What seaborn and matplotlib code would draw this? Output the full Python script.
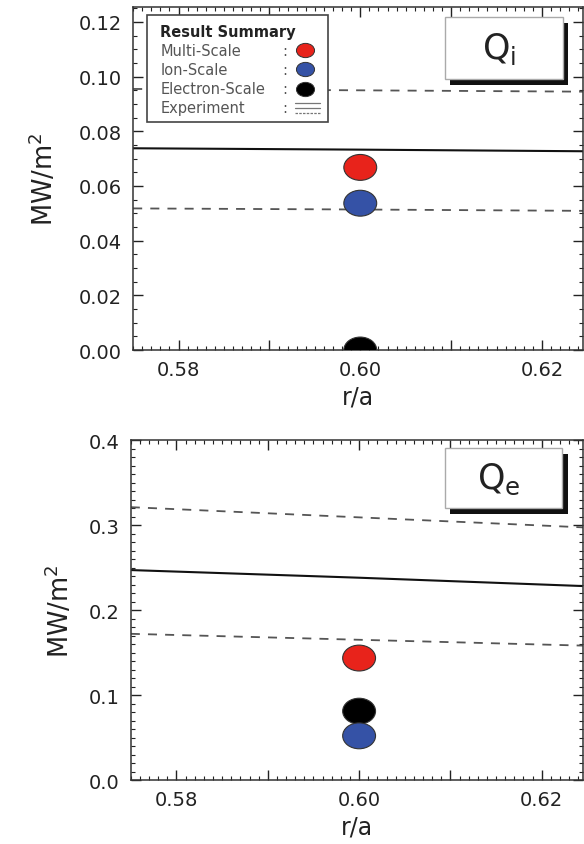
import matplotlib
matplotlib.use("Agg")
import matplotlib.pyplot as plt
import seaborn as sns
import pandas as pd
from matplotlib.path import Path
from matplotlib.patches import Rectangle
from matplotlib.ticker import MultipleLocator, FuncFormatter

# gyrokinetic results at r/a = 0.60
cases = ["Multi-Scale", "Ion-Scale", "Electron-Scale"]
case_colors = ["#e8231b", "#3552a6", "#000000"]
r_sim = [0.60, 0.60, 0.60]
qi_sim = [0.0668, 0.0537, 0.0]
qe_sim = [0.1435, 0.052, 0.081]

# experimental profile and its error band
r_exp = [0.575, 0.600, 0.625]
qi_exp = [0.0738, 0.0733, 0.0727]
qi_exp_hi = [0.0955, 0.0950, 0.0945]
qi_exp_lo = [0.0518, 0.0514, 0.0509]
qe_exp = [0.247, 0.238, 0.228]
qe_exp_hi = [0.321, 0.309, 0.297]
qe_exp_lo = [0.172, 0.165, 0.158]

sns.set_style("ticks")
plt.rcParams["font.family"] = ["DejaVu Sans"]
plt.rcParams["mathtext.fontset"] = "dejavusans"

# slightly wide ellipse, the original picture is stretched sideways
circ = Path.unit_circle()
ellipse = Path(circ.vertices * [1.27, 1.0], circ.codes)

fig = plt.figure(figsize=(5.84, 8.45), dpi=100)
ax1 = fig.add_axes([0.228, 0.5846, 0.770, 0.406])
ax2 = fig.add_axes([0.224, 0.0757, 0.774, 0.4024])


def draw_panel(ax, q_sim, q_exp, q_hi, q_lo):
    sns.lineplot(x=r_exp, y=q_exp, color="#111111", lw=1.5, ax=ax)
    for band in (q_hi, q_lo):
        sns.lineplot(x=r_exp, y=band, color="#555555", lw=1.3,
                     linestyle=(0, (5, 4.5)), ax=ax)
    df = pd.DataFrame({"r": r_sim, "q": q_sim, "case": cases})
    # electron first so the ion dot sits over it
    df = df.iloc[[0, 2, 1]]
    sns.scatterplot(data=df, x="r", y="q", hue="case", hue_order=cases,
                    palette=case_colors, marker=ellipse, s=560,
                    edgecolor="#333333", linewidth=0.8, legend=False,
                    zorder=3, ax=ax)
    ax.set_xlim(0.575, 0.6245)
    ax.xaxis.set_major_locator(MultipleLocator(0.01))
    ax.xaxis.set_minor_locator(MultipleLocator(0.001))
    ax.xaxis.set_major_formatter(FuncFormatter(
        lambda v, p: "%.2f" % v if round(v * 100) % 2 == 0 else ""))
    ax.tick_params(which="both", direction="in", top=True, right=True,
                   labelsize=14, colors="#222222")
    ax.tick_params(which="major", length=7, width=1)
    ax.tick_params(which="minor", length=3, width=0.8)
    ax.tick_params(axis="y", which="major", pad=8)
    ax.tick_params(axis="x", which="major", pad=7)
    for s in ax.spines.values():
        s.set_color("#333333")
        s.set_linewidth(1.1)
    ax.set_xlabel("r/a", fontsize=17, labelpad=4, color="#222222")


def tag_box(ax, x0, y0, w, h, label):
    ax.add_patch(Rectangle((x0 + 0.012, y0 - 0.018), w, h, transform=ax.transAxes,
                           facecolor="#111111", edgecolor="none", zorder=4,
                           clip_on=False))
    ax.add_patch(Rectangle((x0, y0), w, h, transform=ax.transAxes,
                           facecolor="white", edgecolor="#aaaaaa", lw=1.0,
                           zorder=5, clip_on=False))
    ax.text(x0 + w / 2 - 0.01, y0 + h / 2, label, transform=ax.transAxes,
            ha="center", va="center", fontsize=25, color="#222222", zorder=6)


draw_panel(ax1, qi_sim, qi_exp, qi_exp_hi, qi_exp_lo)
ax1.set_ylim(0, 0.1255)
ax1.yaxis.set_major_locator(MultipleLocator(0.02))
ax1.yaxis.set_minor_locator(MultipleLocator(0.005))
ax1.yaxis.set_major_formatter(FuncFormatter(lambda v, p: "%.2f" % v))
ax1.set_ylabel(r"MW/m$^{\mathregular{2}}$", fontsize=18.5, labelpad=14,
               color="#222222")
tag_box(ax1, 0.693, 0.79, 0.262, 0.18, r"$\mathregular{Q_i}$")

draw_panel(ax2, qe_sim, qe_exp, qe_exp_hi, qe_exp_lo)
ax2.set_ylim(0, 0.4)
ax2.yaxis.set_major_locator(MultipleLocator(0.1))
ax2.yaxis.set_minor_locator(MultipleLocator(0.01))
ax2.yaxis.set_major_formatter(FuncFormatter(lambda v, p: "%.1f" % v))
ax2.set_ylabel(r"MW/m$^{\mathregular{2}}$", fontsize=18.5, labelpad=10,
               color="#222222")
tag_box(ax2, 0.695, 0.80, 0.26, 0.177, r"$\mathregular{Q_e}$")

# result summary key
ax1.add_patch(Rectangle((0.031, 0.665), 0.402, 0.311, transform=ax1.transAxes,
                        facecolor="white", edgecolor="#444444", lw=1.2,
                        zorder=5))
ax1.text(0.06, 0.928, "Result Summary", transform=ax1.transAxes,
         fontsize=10.5, fontweight="bold", color="#222222", va="center",
         zorder=6)
rows_y = [0.874, 0.818, 0.762, 0.706]
for name, col, yy in zip(cases, case_colors, rows_y[:3]):
    ax1.text(0.06, yy, name, transform=ax1.transAxes, fontsize=10.5,
             color="#555555", va="center", zorder=6)
    ax1.text(0.332, yy, ":", transform=ax1.transAxes, fontsize=10.5,
             color="#555555", va="center", zorder=6)
    ax1.scatter([0.382], [yy], transform=ax1.transAxes, marker=ellipse, s=170,
                color=col, edgecolor="#333333", linewidth=0.7, zorder=7)
ax1.text(0.06, rows_y[3], "Experiment", transform=ax1.transAxes, fontsize=10.5,
         color="#555555", va="center", zorder=6)
ax1.text(0.332, rows_y[3], ":", transform=ax1.transAxes, fontsize=10.5,
         color="#555555", va="center", zorder=6)
for dy, ls in [(0.014, "-"), (0.0, "-"), (-0.014, (0, (2, 1)))]:
    ax1.plot([0.36, 0.415], [rows_y[3] + dy] * 2, transform=ax1.transAxes,
             color="#777777", lw=0.9, linestyle=ls, zorder=6)

fig.savefig("out.png", dpi=100)
